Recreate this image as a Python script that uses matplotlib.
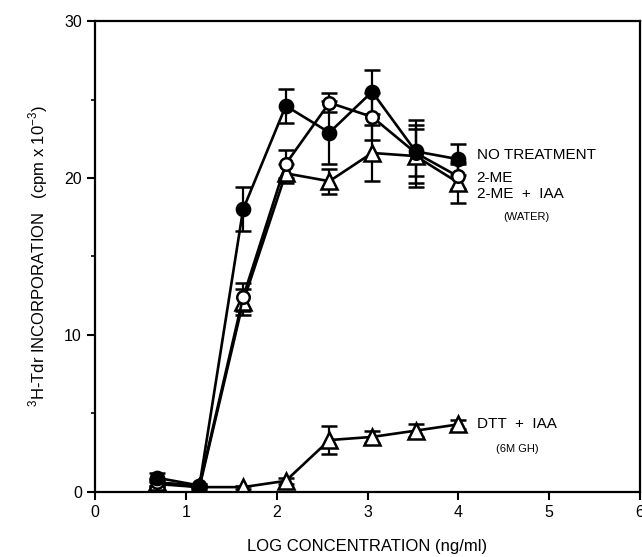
import matplotlib
matplotlib.use("Agg")
import matplotlib.pyplot as plt
from matplotlib.ticker import MultipleLocator

plt.rcParams['font.family'] = ['Liberation Sans', 'DejaVu Sans']
plt.rcParams['mathtext.fontset'] = 'custom'
plt.rcParams['mathtext.rm'] = 'Liberation Sans'

# Log concentration (ng/ml) of each dilution
log_conc = [0.68, 1.15, 1.63, 2.10, 2.58, 3.05, 3.53, 4.00]

# 3H-Tdr incorporation (cpm x 10^-3) and SEM
no_treatment = [0.9, 0.4, 18.0, 24.6, 22.9, 25.5, 21.7, 21.2]
no_treatment_err = [0.3, 0.1, 1.4, 1.1, 2.0, 1.4, 2.0, 1.0]

two_me = [0.6, 0.4, 12.4, 20.9, 24.8, 23.9, 21.6, 20.1]
two_me_err = [0.2, 0.1, 0.9, 0.9, 0.6, 1.5, 1.5, 0.8]

two_me_iaa = [0.5, 0.3, 12.1, 20.3, 19.8, 21.6, 21.4, 19.7]
two_me_iaa_err = [0.2, 0.1, 0.8, 0.6, 0.8, 1.8, 2.0, 1.3]

dtt_iaa = [0.6, 0.3, 0.3, 0.7, 3.3, 3.5, 3.9, 4.3]
dtt_iaa_err = [0.2, 0.1, 0.1, 0.2, 0.9, 0.4, 0.4, 0.3]

fig = plt.figure(figsize=(6.42, 5.57), dpi=100)
ax = fig.add_axes([0.148, 0.117, 0.849, 0.845])

common = dict(color='black', lw=1.9, capsize=6, elinewidth=1.6, capthick=1.6,
              markeredgewidth=1.8, markeredgecolor='black')

# open triangles: 2-ME + IAA and DTT + IAA
ax.errorbar(log_conc, two_me_iaa, yerr=two_me_iaa_err, fmt='-^', ms=11,
            markerfacecolor='white', **common)
ax.errorbar(log_conc, dtt_iaa, yerr=dtt_iaa_err, fmt='-^', ms=11,
            markerfacecolor='white', **common)
# open circles: 2-ME
ax.errorbar(log_conc, two_me, yerr=two_me_err, fmt='-o', ms=9,
            markerfacecolor='white', **common)
# filled circles: no treatment
ax.errorbar(log_conc, no_treatment, yerr=no_treatment_err, fmt='-o', ms=9.5,
            markerfacecolor='black', **common)

# series labels
ax.text(4.2, 21.5, 'NO TREATMENT', fontsize=11, va='center')
ax.text(4.2, 20.0, '2-ME', fontsize=11, va='center')
ax.text(4.2, 19.0, '2-ME  +  IAA', fontsize=11, va='center')
ax.text(4.75, 17.5, '(WATER)', fontsize=8, ha='center', va='center')
ax.text(4.2, 4.3, 'DTT  +  IAA', fontsize=11, va='center')
ax.text(4.65, 2.7, '(6M GH)', fontsize=8, ha='center', va='center')

ax.set_xlim(0, 6)
ax.set_ylim(0, 30)
ax.xaxis.set_major_locator(MultipleLocator(1))
ax.yaxis.set_major_locator(MultipleLocator(10))
ax.yaxis.set_minor_locator(MultipleLocator(5))
ax.tick_params(axis='both', which='major', labelsize=11.5, width=1.5, length=6,
               direction='out')
ax.tick_params(axis='y', which='minor', width=1.2, length=3, direction='out')
for s in ax.spines.values():
    s.set_linewidth(1.6)

ax.set_xlabel('LOG CONCENTRATION (ng/ml)', fontsize=12, labelpad=14)
ax.set_ylabel(r'$^{3}$H-Tdr INCORPORATION   (cpm x 10$^{-3}$)', fontsize=12,
              labelpad=10)

fig.savefig('out.png', dpi=100)
